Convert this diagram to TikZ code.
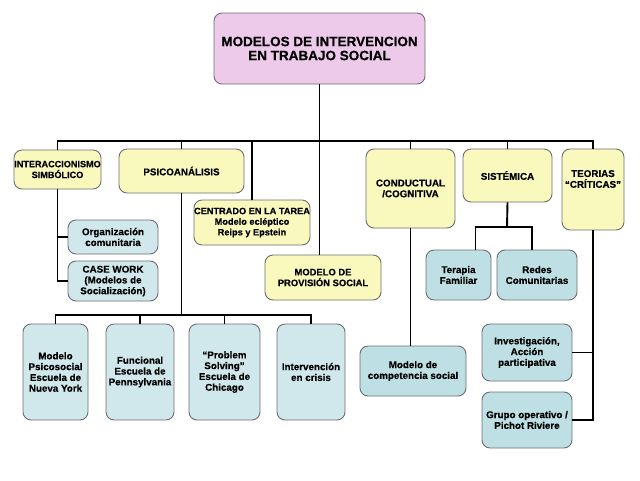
\documentclass[tikz,border=0pt]{standalone}
\usepackage{fontspec}
\setmainfont{Liberation Sans}[BoldFeatures={FakeBold=0.4}]
\definecolor{pinkf}{RGB}{238,202,234}
\definecolor{yelf}{RGB}{249,249,190}
\definecolor{bluel}{RGB}{208,232,236}
\definecolor{blued}{RGB}{190,224,228}
\definecolor{bord}{RGB}{110,110,110}
\begin{document}
\begin{tikzpicture}[x=1pt,y=-1pt,
  base/.style={draw=bord, line width=0.9pt, rounded corners=8pt, align=center, inner sep=0pt,
    font=\fontsize{9.8}{10.8}\selectfont\bfseries},
  ybox/.style={base, fill=yelf},
  lbox/.style={base, fill=bluel},
  dbox/.style={base, fill=blued},
  conn/.style={line width=1.9pt, black}]
\useasboundingbox (0,0) rectangle (640,480);
% helper macro for boxes by corners
\newcommand{\bx}[7]{\node[#1, minimum width={#5-#3}, minimum height={#6-#4}] (#2) at ({(#3+#5)/2},{(#4+#6)/2}) {#7};}
\bx{base,fill=pinkf,font=\fontsize{13.5}{14}\selectfont\bfseries}{title}{214}{13}{425}{84}{MODELOS DE INTERVENCION\\EN TRABAJO SOCIAL}
\bx{ybox,font=\fontsize{9.1}{10.8}\selectfont\bfseries}{inter}{14}{150}{101}{189}{INTERACCIONISMO\\SIMBÓLICO}
\bx{ybox}{psico}{119}{149}{244}{193}{PSICOANÁLISIS}
\bx{ybox,font=\fontsize{9.2}{10.6}\selectfont\bfseries}{centr}{194}{200}{310}{245}{CENTRADO EN LA TAREA\\Modelo ecléptico\\Reips y Epstein}
\bx{ybox,font=\fontsize{9.4}{10.8}\selectfont\bfseries}{prov}{265}{255}{381}{300}{MODELO DE\\PROVISIÓN SOCIAL}
\bx{ybox}{cond}{366}{149}{455}{228}{CONDUCTUAL\\/COGNITIVA}
\bx{ybox}{sist}{463}{149}{552}{202}{SISTÉMICA}
\node[ybox, minimum width=62, minimum height=81] (teor) at (593,189.5) {};
\node[font=\fontsize{9.8}{10.8}\selectfont\bfseries, align=center] at (593,179) {TEORIAS\\“CRÍTICAS”};
\bx{lbox}{org}{68}{220}{158}{254}{Organización\\comunitaria}
\bx{lbox}{case}{68}{261}{158}{301}{CASE WORK\\(Modelos de\\Socialización)}
\bx{lbox}{psy}{23}{324}{88}{420}{Modelo\\Psicosocial\\Escuela de\\Nueva York}
\bx{lbox}{func}{106}{324}{174}{420}{Funcional\\Escuela de\\Pennsylvania}
\bx{lbox}{prob}{189}{324}{260}{420}{“Problem\\Solving”\\Escuela de\\Chicago}
\bx{lbox}{cris}{277}{324}{345}{420}{Intervención\\en crisis}
\bx{dbox}{comp}{360}{346}{466}{396}{Modelo de\\competencia social}
\bx{dbox}{ter}{426}{250}{491}{300}{Terapia\\Familiar}
\bx{dbox}{red}{497}{250}{577}{300}{Redes\\Comunitarias}
\bx{dbox}{inv}{482}{324}{572}{381}{Investigación,\\Acción\\participativa}
\bx{dbox}{grp}{482}{392}{572}{448}{Grupo operativo /\\Pichot Riviere}
% connectors
\coordinate (bus) at (320,141);
\coordinate (pbus) at (181,315);
\coordinate (sj) at (507,227);
\draw[conn] (title.south) -- (title.south |- prov.north);
\draw[conn] (inter.north) -- (inter.north |- bus) -- (teor.north |- bus) -- (teor.north);
\draw[conn] (psico.north) -- (psico.north |- bus);
\draw[conn] (centr.north) -- (centr.north |- bus);
\draw[conn] (cond.north) -- (cond.north |- bus);
\draw[conn] (sist.north) -- (sist.north |- bus);
\draw[conn] (inter.south) -- (inter.south |- case.west) -- (case.west);
\draw[conn] (inter.south |- org.west) -- (org.west);
\draw[conn] (psico.south) -- (psico.south |- pbus);
\draw[conn] (psy.north) -- (psy.north |- pbus) -- (cris.north |- pbus) -- (cris.north);
\draw[conn] (func.north) -- (func.north |- pbus);
\draw[conn] (prob.north) -- (prob.north |- pbus);
\draw[conn] (cond.south) -- (cond.south |- comp.north);
\draw[conn] (sist.south) -- (sj);
\draw[conn] ([xshift=17pt]ter.north) |- (sj) -| ([xshift=-5pt]red.north);
\draw[conn] (teor.south) -- (teor.south |- grp.east) -- (grp.east);
\draw[conn] (teor.south |- inv.east) -- (inv.east);
\end{tikzpicture}
\end{document}
